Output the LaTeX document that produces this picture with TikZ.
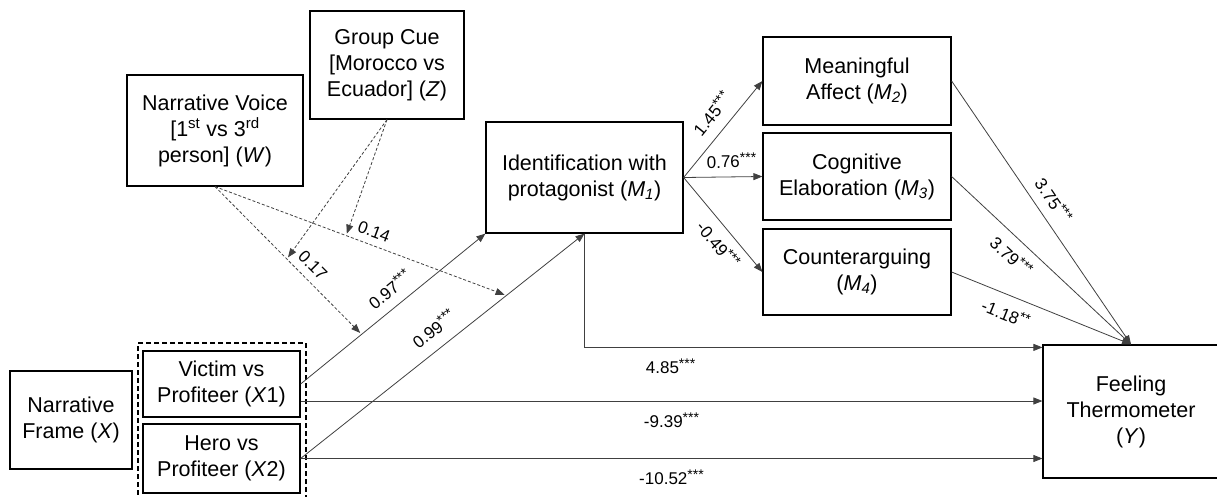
\documentclass[tikz,border=0pt]{standalone}
\usepackage{fontspec}
\setmainfont{Liberation Sans}
\usetikzlibrary{arrows.meta}
\newcommand\sig[1]{\raisebox{0.3em}{\fontsize{14}{14}\selectfont #1}}
\begin{document}
\begin{tikzpicture}[x=1pt,y=-1pt,
  box/.style={draw, line width=1.2pt, align=center, inner sep=0pt,
    font=\fontsize{21.5}{26}\selectfont},
  conn/.style={line width=0.8pt, draw=black!75, -{Triangle[length=9pt,width=7pt]}},
  modarrow/.style={conn, dash pattern=on 3pt off 2pt, shorten >=2pt},
  lab/.style={font=\fontsize{17}{18}\selectfont, inner sep=1pt, sloped},
  grpbox/.style={draw, line width=1.2pt, dash pattern=on 5pt off 3pt, inner sep=0pt}
]
\useasboundingbox (0,0) rectangle (1217,496);

% boxes
\node[box, minimum width=154pt, minimum height=108pt] (Z) at (387,65)
  {Group Cue\\ {[}Morocco vs\\ Ecuador] (\textit{Z})};
\node[box, minimum width=176pt, minimum height=111pt] (W) at (215,130.5)
  {Narrative Voice\\ {[}1\textsuperscript{st} vs 3\textsuperscript{rd}\\ person] (\textit{W})};
\node[box, minimum width=197pt, minimum height=111pt] (M1) at (584.5,177.5)
  {Identification with\\ protagonist (\textit{M\textsubscript{1}})};
\node[box, minimum width=188pt, minimum height=88pt] (M2) at (857,81)
  {Meaningful\\ Affect (\textit{M\textsubscript{2}})};
\node[box, minimum width=188pt, minimum height=87pt] (M3) at (857,176.5)
  {Cognitive\\ Elaboration (\textit{M\textsubscript{3}})};
\node[box, minimum width=188pt, minimum height=86pt] (M4) at (857,272)
  {Counterarguing\\ (\textit{M\textsubscript{4}})};
\node[box, minimum width=176pt, minimum height=133pt] (FT) at (1131,411.5)
  {Feeling\\ Thermometer\\ (\textit{Y})};
\node[box, minimum width=122pt, minimum height=98pt] (NF) at (71,420)
  {Narrative\\ Frame (\textit{X})};
\node[grpbox, minimum width=168pt, minimum height=157pt] (grp) at (222,421.5) {};
\node[box, minimum width=157pt, minimum height=66pt] (X1) at (221.5,384)
  {Victim vs\\ Profiteer (\textit{X}1)};
\node[box, minimum width=157pt, minimum height=69pt] (X2) at (221.5,458.5)
  {Hero vs\\ Profiteer (\textit{X}2)};

% helper points on paths
\path (X1.east) -- (M1.south west) coordinate[pos=0.33] (a1);
\path (X2.east) -- (M1.south) coordinate[pos=0.725] (a2);
\path (W.south) -- (a1) coordinate[pos=0.49] (b1);
\path (W.south) -- (a2) coordinate[pos=0.45] (b2);

% X -> M1
\draw[conn] (X1.east) -- node[lab, above=8.6pt, pos=0.54] {0.97\sig{***}} (M1.south west);
\draw[conn] (X2.east) -- node[lab, above=10.5pt, pos=0.51] {0.99\sig{***}} (M1.south);

% X -> Y direct
\draw[conn] ([yshift=-17pt]X1.east) -- node[lab, below=10pt, pos=0.5] {-9.39\sig{***}} ([yshift=-17pt]X1.east -| FT.west);
\draw[conn] (X2.east) -- node[lab, below=10pt, pos=0.5] {-10.52\sig{***}} (X2.east -| FT.west);

% M1 -> Y
\draw[conn] (M1.south) |- node[lab, below=10pt, pos=0.594] {4.85\sig{***}} ([yshift=-3pt]FT.north west);

% M1 -> mediators
\draw[conn] (M1.east) -- node[lab, above=10pt, pos=0.54] {1.45\sig{***}} (M2.west);
\draw[conn] (M1.east) -- node[lab, above=7.5pt, pos=0.61] {0.76\sig{***}} (M3.west);
\draw[conn] (M1.east) -- node[lab, below=7pt, pos=0.6] {-0.49\sig{***}} (M4.west);

% mediators -> Y
\draw[conn] (M2.east) -- node[lab, above=8.5pt, pos=0.49] {3.75\sig{***}} (FT.north);
\draw[conn] (M3.east) -- node[lab, below=8.3pt, pos=0.4] {3.79\sig{***}} (FT.north);
\draw[conn] (M4.east) -- node[lab, below=9pt, pos=0.34] {-1.18\sig{**}} (FT.north);

% moderation
\draw[modarrow] (W.south) -- node[lab, above=6.5pt, pos=0.6] {0.17} (a1);
\draw[modarrow] (W.south) -- node[lab, above=6pt, pos=0.53] {0.14} (a2);
\draw[modarrow] (Z.south) -- (b1);
\draw[modarrow] (Z.south) -- (b2);
\end{tikzpicture}
\end{document}
